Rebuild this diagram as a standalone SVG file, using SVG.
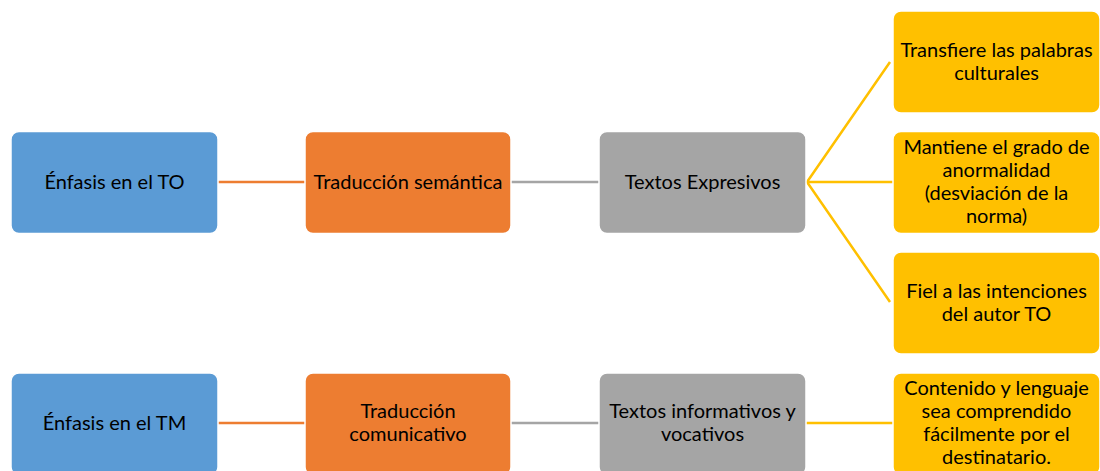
<svg xmlns="http://www.w3.org/2000/svg" width="1100" height="471" viewBox="0 0 1100 471">
<style>
text{font-family:"Lato","Open Sans","Liberation Sans",sans-serif;font-size:20px;fill:#000;text-anchor:middle;dominant-baseline:central}
.blue{fill:#5B9BD5}.orange{fill:#ED7D31}.grey{fill:#A5A5A5}.yellow{fill:#FFC000}
.node rect{stroke:#fff;stroke-width:1.5}
.c-o{stroke:#ED7D31;stroke-width:2.5;fill:none}
.c-g{stroke:#A5A5A5;stroke-width:2.5;fill:none}
.c-y{stroke:#FFC000;stroke-width:2.5;fill:none}
</style>
<rect width="1100" height="471" fill="#fff"/>
<g id="connectors">
<line class="c-o" x1="218" y1="182" x2="305" y2="182"/>
<line class="c-g" x1="511" y1="182" x2="599" y2="182"/>
<polyline class="c-y" points="890,62 807,182 890,302"/>
<line class="c-y" x1="807" y1="182" x2="893" y2="182"/>
<line class="c-o" x1="218" y1="423" x2="305" y2="423"/>
<line class="c-g" x1="511" y1="423" x2="599" y2="423"/>
<line class="c-y" x1="806" y1="423" x2="893" y2="423"/>
</g>
<g transform="translate(0,-1.5)">
<g id="n1" class="node"><rect class="blue" x="11" y="133" width="207" height="102" rx="8"/><text x="114.5" y="182.5">Énfasis en el TO</text></g>
<g id="n2" class="node"><rect class="orange" x="305" y="133" width="206" height="102" rx="8"/><text x="408" y="182.5">Traducción semántica</text></g>
<g id="n3" class="node"><rect class="grey" x="599" y="133" width="207" height="102" rx="8"/><text x="702.5" y="182.5">Textos Expresivos</text></g>
<g id="n4" class="node"><rect class="yellow" x="893" y="12.5" width="207" height="102" rx="8"/><text x="996.5" y="50.5">Transfiere las palabras</text><text x="996.5" y="73.5">culturales</text></g>
<g id="n5" class="node"><rect class="yellow" x="893" y="133" width="207" height="102" rx="8"/><text x="996.5" y="147">Mantiene el grado de</text><text x="996.5" y="170">anormalidad</text><text x="996.5" y="193">(desviación de la</text><text x="996.5" y="216">norma)</text></g>
<g id="n6" class="node"><rect class="yellow" x="893" y="253.5" width="207" height="102" rx="8"/><text x="996.5" y="291.5">Fiel a las intenciones</text><text x="996.5" y="314.5">del autor TO</text></g>
<g id="n7" class="node"><rect class="blue" x="11" y="374.5" width="207" height="102" rx="8"/><text x="114.5" y="423">Énfasis en el TM</text></g>
<g id="n8" class="node"><rect class="orange" x="305" y="374.5" width="206" height="102" rx="8"/><text x="408" y="411.5">Traducción</text><text x="408" y="434.5">comunicativo</text></g>
<g id="n9" class="node"><rect class="grey" x="599" y="374.5" width="207" height="102" rx="8"/><text x="702.5" y="411.5">Textos informativos y</text><text x="702.5" y="434.5">vocativos</text></g>
<g id="n10" class="node"><rect class="yellow" x="893" y="374.5" width="207" height="102" rx="8"/><text x="996.5" y="388">Contenido y lenguaje</text><text x="996.5" y="411">sea comprendido</text><text x="996.5" y="434">fácilmente por el</text><text x="996.5" y="457">destinatario.</text></g>
</g>
</svg>
